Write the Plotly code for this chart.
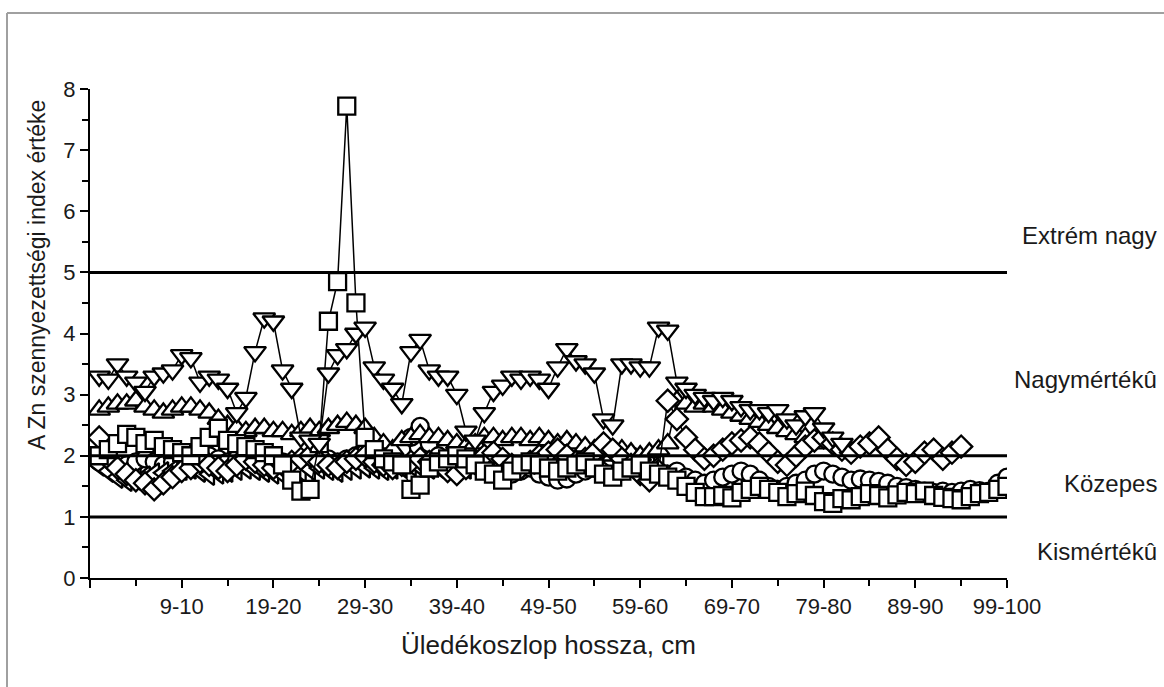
import plotly.graph_objects as go

# ---------------- data ----------------
depth_idx = list(range(1, 101))          # 1..100  -> "0-1" ... "99-100"
tick_vals = [0, 10, 20, 30, 40, 50, 60, 70, 80, 90, 100]
tick_text = ["", "9-10", "19-20", "29-30", "39-40", "49-50", "59-60",
             "69-70", "79-80", "89-90", "99-100"]
minor_vals = [5, 15, 25, 35, 45, 55, 65, 75, 85, 95]

squares = [2.0, 2.1, 2.2, 2.35, 2.3, 2.2, 2.25, 2.15, 2.1, 2.05,
           2.0, 2.15, 2.3, 2.45, 2.25, 2.2, 2.15, 2.1, 2.05, 2.0,
           1.85, 1.6, 1.42, 1.45, 2.2, 4.2, 4.85, 7.72, 4.5, 2.3,
           2.1, 1.95, 1.9, 1.85, 1.45, 1.52, 1.8, 1.9, 1.95, 2.0,
           1.95, 1.85, 1.75, 1.7, 1.6, 1.75, 1.85, 1.9, 1.85, 1.8,
           1.75, 1.8, 1.85, 1.9, 1.8, 1.7, 1.65, 1.75, 1.8, 1.85,
           1.75, 1.7, 1.65, 1.6, 1.5, 1.4, 1.33, 1.33, 1.35, 1.31,
           1.4, 1.45, 1.5, 1.45, 1.4, 1.33, 1.38, 1.42, 1.35, 1.25,
           1.22, 1.3, 1.28, 1.33, 1.38, 1.35, 1.31, 1.36, 1.4, 1.38,
           1.42, 1.35, 1.32, 1.3, 1.28, 1.33, 1.38, 1.4, 1.45, 1.5]

circles = [1.9, 1.85, 1.8, 1.85, 1.9, 1.95, 1.9, 1.85, 1.9, 1.95,
           2.0, 2.05, 2.0, 1.95, 1.9, 1.95, 2.0, 2.05, 2.0, 1.95,
           1.9, 1.85, 1.9, 1.95, 2.0, 1.95, 1.9, 1.95, 2.0, 2.05,
           2.0, 1.95, 2.0, 2.1, 2.3, 2.48, 2.2, 2.0, 1.95, 1.9,
           1.85, 1.9, 1.85, 1.8, 1.75, 1.7, 1.75, 1.8, 1.7, 1.65,
           1.6, 1.62, 1.7, 1.75, 1.8, 1.85, 1.8, 1.75, 1.8, 1.85,
           1.8, 1.75, 1.7, 1.75, 1.65, 1.6, 1.55, 1.6, 1.65, 1.7,
           1.75, 1.7, 1.6, 1.5, 1.45, 1.5, 1.55, 1.6, 1.7, 1.75,
           1.7, 1.65, 1.6, 1.62, 1.6, 1.58, 1.55, 1.5, 1.48, 1.45,
           1.42, 1.4, 1.42, 1.4, 1.42, 1.45, 1.43, 1.42, 1.55, 1.65]

tri_up = [2.75, 2.8, 2.85, 2.85, 2.9, 2.8, 2.75, 2.7, 2.75, 2.8,
          2.8, 2.75, 2.7, 2.6, 2.5, 2.45, 2.4, 2.45, 2.45, 2.4,
          2.4, 2.35, 2.4, 2.45, 2.4, 2.45, 2.5, 2.55, 2.5, 2.45,
          2.3, 2.2, 2.1, 2.25, 2.3, 2.35, 2.3, 2.3, 2.25, 2.2,
          2.15, 2.2, 2.3, 2.3, 2.25, 2.3, 2.3, 2.25, 2.3, 2.25,
          2.2, 2.25, 2.2, 2.15, 2.1, 2.05, 2.0, 2.1, 2.05, 2.0,
          2.05, 2.1, 2.2, 2.9, 2.85, 2.8, 2.85, 2.8, 2.75, 2.7,
          2.65, 2.6, 2.55, 2.5, 2.45, 2.4, 2.35, 2.3, 2.25, 2.2]

tri_down = [3.3, 3.25, 3.5, 3.3, 3.2, 3.05, 3.3, 3.35, 3.4, 3.65,
            3.6, 3.2, 3.3, 3.25, 3.1, 2.7, 2.95, 3.7, 4.25, 4.2,
            3.4, 3.1, 2.3, 2.25, 2.2, 3.35, 3.65, 3.75, 4.0, 4.1,
            3.45, 3.25, 3.1, 2.85, 3.7, 3.9, 3.4, 3.3, 3.3, 3.0,
            2.4, 2.25, 2.7, 3.05, 3.15, 3.3, 3.25, 3.3, 3.25, 3.1,
            3.45, 3.75, 3.55, 3.5, 3.35, 2.6, 2.5, 3.5, 3.5, 3.45,
            3.45, 4.1, 4.05, 3.2, 3.1, 3.0, 2.95, 2.9, 2.95, 2.9,
            2.8, 2.75, 2.75, 2.7, 2.75, 2.6, 2.5, 2.65, 2.7, 2.45,
            2.3, 2.2]

diamonds = [2.3, 1.95, 1.8, 1.7, 1.6, 1.55, 1.45, 1.55, 1.65, 1.75,
            1.8, 1.9, 1.85, 1.8, 1.75, 1.85, 1.95, 1.9, 1.85, 1.8,
            1.85, 1.9, 1.95, 2.0, 1.9, 1.85, 1.8, 1.9, 1.95, 2.0,
            1.9, 1.85, 1.8, 1.85, 1.9, 1.95, 1.9, 1.85, 1.75, 1.7,
            1.8, 1.9, 2.0, 2.05, 1.95, 1.85, 1.8, 1.9, 2.0, 2.05,
            2.1, 2.0, 1.9, 1.95, 2.05, 2.2, 2.1, 1.95, 1.85, 1.7,
            1.6, 1.75, 2.9, 2.6, 2.3, 2.1, 1.95, 2.0, 2.1, 2.2,
            2.25, 2.3, 2.2, 2.05, 1.9, 1.85, 2.0, 2.15, 2.25, 2.3,
            2.2, 2.1, 2.05, 2.15, 2.2, 2.3, 2.1, 1.95, 1.85, 1.9,
            2.05, 2.1, 1.95, 2.05, 2.15]

tri_left = [1.85, 1.75, 1.65, 1.6, 1.62, 1.65, 1.7, 1.72, 1.75, 1.78,
            1.8, 1.75, 1.7, 1.72, 1.75, 1.78, 1.8, 1.78, 1.75, 1.72,
            1.7, 1.72, 1.75, 1.78, 1.8, 1.78, 1.75, 1.78, 1.8, 1.82,
            1.8, 1.78, 1.8, 1.82, 1.85, 1.82, 1.8, 1.82, 1.85, 1.83,
            1.8, 1.82, 1.85, 1.88, 1.85, 1.82, 1.85, 1.88, 1.9, 1.88,
            1.85, 1.88, 1.9, 1.92, 1.9, 1.88, 1.9, 1.92, 1.95, 1.9,
            1.88, 1.85]

threshold_levels = [1, 2, 5]
zone_labels = ["Kismértékû", "Közepes", "Nagymértékû", "Extrém nagy"]
zone_label_y = [0.43, 1.55, 3.24, 5.6]

# ---------------- figure ----------------
fig = go.Figure()

series = [
    (circles, "circle", 17),
    (tri_left, "triangle-left", 19),
    (tri_up, "triangle-up", 19),
    (diamonds, "diamond", 17),
    (squares, "square", 17),
    (tri_down, "triangle-down", 19),
]
for vals, sym, size in series:
    fig.add_trace(go.Scatter(
        x=depth_idx[:len(vals)], y=vals, mode="lines+markers",
        line=dict(color="black", width=1.5),
        marker=dict(symbol=sym, size=size, color="white",
                    line=dict(color="black", width=2.3)),
        showlegend=False, hoverinfo="skip"))

for lv in threshold_levels:
    fig.add_shape(type="line", xref="x", yref="y", x0=0, x1=100,
                  y0=lv, y1=lv, line=dict(color="black", width=3),
                  layer="above")

for txt, yv in zip(zone_labels, zone_label_y):
    fig.add_annotation(text=txt, xref="paper", yref="y", x=1.166, y=yv,
                       xanchor="right", yanchor="middle", showarrow=False,
                       font=dict(size=24, color="#1a1a1a"))

# axis titles as annotations
fig.add_annotation(text="A Zn szennyezettségi index értéke", xref="paper",
                   yref="paper", x=-0.074, y=0.62, textangle=-90,
                   showarrow=False, font=dict(size=23, color="#1a1a1a"))
fig.add_annotation(text="Üledékoszlop hossza, cm", xref="paper",
                   yref="paper", x=0.5, y=-0.137, yanchor="middle",
                   showarrow=False, font=dict(size=26, color="#1a1a1a"))

# gray frame lines (top and left of image)
L, R, T, B = 90, 1007, 89, 578
def px(xp):
    return (xp - L) / (R - L)
def py(yp):
    return (B - yp) / (B - T)
fig.add_shape(type="line", xref="paper", yref="paper", x0=px(7), x1=px(1164),
              y0=py(13), y1=py(13), line=dict(color="#a0a0a0", width=2))
fig.add_shape(type="line", xref="paper", yref="paper", x0=px(7), x1=px(7),
              y0=py(13), y1=py(687), line=dict(color="#a0a0a0", width=2))

fig.update_layout(
    width=1164, height=687,
    margin=dict(l=L, r=1164 - R, t=T, b=687 - B),
    paper_bgcolor="white", plot_bgcolor="white",
    font=dict(family="Liberation Sans, Arial, sans-serif", color="#1a1a1a"),
    xaxis=dict(range=[0, 100], tickvals=tick_vals, ticktext=tick_text,
               ticks="outside", ticklen=8, tickwidth=2, tickcolor="black",
               showline=True, linecolor="black", linewidth=2,
               showgrid=False, zeroline=False,
               tickfont=dict(size=22),
               minor=dict(tickvals=minor_vals, ticks="outside", ticklen=6,
                          tickwidth=2, tickcolor="black")),
    yaxis=dict(range=[0, 8], tickvals=[0, 1, 2, 3, 4, 5, 6, 7, 8],
               ticks="outside", ticklen=8, tickwidth=2, tickcolor="black",
               showline=True, linecolor="black", linewidth=2,
               showgrid=False, zeroline=False,
               tickfont=dict(size=22),
               minor=dict(dtick=0.5, ticks="outside", ticklen=6,
                          tickwidth=2, tickcolor="black")),
)

fig.write_html("out.html")
